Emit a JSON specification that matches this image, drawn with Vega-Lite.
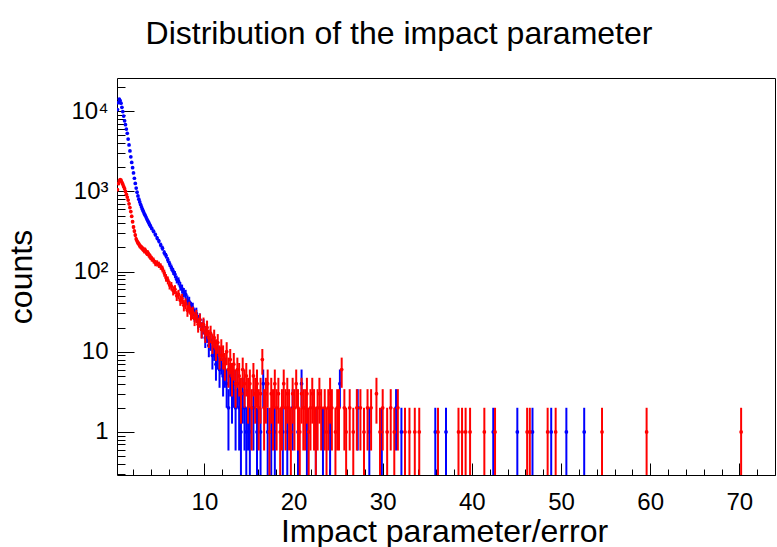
{
"$schema": "https://vega.github.io/schema/vega-lite/v6.json",
"width": 658, "height": 397,
"autosize": "none",
"padding": {"left": 117, "top": 78, "right": 2, "bottom": 72},
"background": "white",
"config": {
  "view": {"stroke": "black", "strokeWidth": 1},
  "font": "Liberation Sans",
  "axis": {"domain": false, "grid": false, "tickColor": "black", "tickWidth": 1, "labelColor": "black", "labelFont": "Liberation Sans", "labelFontSize": 24, "titleColor": "black", "titleFont": "Liberation Sans", "titleFontWeight": "normal", "labelOverlap": false, "labelFlush": false, "labelBound": false}
},
"title": {"text": "Distribution of the impact parameter", "fontSize": 32, "fontWeight": "normal", "font": "Liberation Sans", "color": "black", "anchor": "middle", "dx": -47, "baseline": "alphabetic", "offset": 2},
"datasets": {
"blue": [
{"x":0.25,"y":10500},{"x":0.35,"y":12800},{"x":0.45,"y":14200},{"x":0.55,"y":13600},{"x":0.65,"y":12600},{"x":0.75,"y":11200},{"x":0.85,"y":9900},{"x":0.95,"y":8700},{"x":1.05,"y":7600},{"x":1.15,"y":6800},{"x":1.25,"y":6000},{"x":1.35,"y":5300},{"x":1.45,"y":4500},{"x":1.55,"y":3800},{"x":1.65,"y":3200},{"x":1.75,"y":2700},{"x":1.85,"y":2300},{"x":1.95,"y":1980},{"x":2.05,"y":1700},{"x":2.15,"y":1460},{"x":2.25,"y":1260},{"x":2.35,"y":1100},{"x":2.45,"y":980},{"x":2.55,"y":880},{"x":2.65,"y":800},{"x":2.75,"y":740},{"x":2.85,"y":685},{"x":2.95,"y":640},
{"x":3.05,"y":600},{"x":3.15,"y":565},{"x":3.25,"y":530},{"x":3.35,"y":505},{"x":3.45,"y":478},{"x":3.55,"y":452},{"x":3.65,"y":430},{"x":3.75,"y":410},{"x":3.85,"y":388},{"x":3.95,"y":370},
{"x":4.1,"y":345},{"x":4.3,"y":318},{"x":4.5,"y":290},{"x":4.7,"y":262},{"x":4.9,"y":240},{"x":5.1,"y":215},{"x":5.3,"y":196},{"x":5.5,"y":172},{"x":5.7,"y":158},{"x":5.9,"y":140},{"x":6.1,"y":125},{"x":6.3,"y":112},{"x":6.5,"y":101},{"x":6.7,"y":92},{"x":6.9,"y":80},{"x":7.1,"y":76},{"x":7.3,"y":66},{"x":7.5,"y":61},{"x":7.7,"y":55},{"x":7.9,"y":52},{"x":8.1,"y":44},{"x":8.3,"y":42},{"x":8.5,"y":36},{"x":8.7,"y":35},{"x":8.9,"y":29},{"x":9.1,"y":30},{"x":9.3,"y":24},{"x":9.5,"y":25},{"x":9.7,"y":19},{"x":9.9,"y":21},{"x":10.1,"y":15},{"x":10.3,"y":17},{"x":10.5,"y":12},{"x":10.7,"y":14},{"x":10.9,"y":9},{"x":11.1,"y":11},{"x":11.3,"y":7},{"x":11.5,"y":9},{"x":11.7,"y":6},{"x":11.9,"y":8},
{"x":12.1,"y":5},{"x":12.3,"y":6},{"x":12.5,"y":4},{"x":12.7,"y":2},{"x":12.9,"y":5},{"x":13.1,"y":3},{"x":13.3,"y":4},{"x":13.5,"y":2},{"x":13.7,"y":4},{"x":13.9,"y":2},{"x":14.1,"y":1},{"x":14.3,"y":3},{"x":14.5,"y":2},{"x":14.7,"y":1},{"x":14.9,"y":2},{"x":15.1,"y":1},{"x":15.5,"y":2},{"x":15.9,"y":1},{"x":16.3,"y":1},{"x":16.6,"y":4},{"x":17.1,"y":1},{"x":17.5,"y":1},{"x":17.9,"y":1},{"x":18.8,"y":1},{"x":19.3,"y":1},{"x":19.9,"y":2},{"x":20.5,"y":1},{"x":20.9,"y":4},{"x":21.5,"y":1},{"x":22.5,"y":1},{"x":23.3,"y":1},{"x":24.1,"y":1},{"x":25.2,"y":4},{"x":27.2,"y":2},{"x":28.5,"y":1},{"x":29.9,"y":1},{"x":31.5,"y":2},{"x":32.1,"y":1},{"x":35.9,"y":1},{"x":37.1,"y":1},{"x":42.4,"y":1},{"x":45.1,"y":1},{"x":46.8,"y":1},{"x":48.9,"y":1},{"x":50.6,"y":1},{"x":52.6,"y":1}
],
"red": [
{"x":0.25,"y":1050},{"x":0.35,"y":1250},{"x":0.45,"y":1350},{"x":0.55,"y":1400},{"x":0.65,"y":1380},{"x":0.75,"y":1300},{"x":0.85,"y":1230},{"x":0.95,"y":1150},{"x":1.05,"y":1080},{"x":1.15,"y":1000},{"x":1.25,"y":920},{"x":1.35,"y":850},{"x":1.45,"y":780},{"x":1.55,"y":700},{"x":1.65,"y":630},{"x":1.75,"y":560},{"x":1.85,"y":490},{"x":1.95,"y":420},{"x":2.05,"y":360},{"x":2.15,"y":320},{"x":2.25,"y":285},{"x":2.35,"y":255},{"x":2.45,"y":240},{"x":2.55,"y":228},{"x":2.65,"y":222},{"x":2.75,"y":210},{"x":2.85,"y":205},{"x":2.95,"y":200},
{"x":3.05,"y":194},{"x":3.15,"y":190},{"x":3.25,"y":182},{"x":3.35,"y":186},{"x":3.45,"y":176},{"x":3.55,"y":170},{"x":3.65,"y":172},{"x":3.75,"y":163},{"x":3.85,"y":158},{"x":3.95,"y":152},
{"x":4.1,"y":145},{"x":4.3,"y":138},{"x":4.5,"y":128},{"x":4.7,"y":127},{"x":4.9,"y":122},{"x":5.1,"y":116},{"x":5.3,"y":108},{"x":5.5,"y":96},{"x":5.7,"y":84},{"x":5.9,"y":78},{"x":6.1,"y":68},{"x":6.3,"y":66},{"x":6.5,"y":58},{"x":6.7,"y":60},{"x":6.9,"y":50},{"x":7.1,"y":52},{"x":7.3,"y":44},{"x":7.5,"y":46},{"x":7.7,"y":38},{"x":7.9,"y":40},{"x":8.1,"y":33},{"x":8.3,"y":36},{"x":8.5,"y":30},{"x":8.7,"y":31},{"x":8.9,"y":26},{"x":9.1,"y":28},{"x":9.3,"y":22},{"x":9.5,"y":25},{"x":9.7,"y":19},{"x":9.9,"y":22},{"x":10.1,"y":17},{"x":10.3,"y":20},{"x":10.5,"y":15},{"x":10.7,"y":17},{"x":10.9,"y":13},{"x":11.1,"y":15},{"x":11.3,"y":11},{"x":11.5,"y":13},{"x":11.7,"y":9},{"x":11.9,"y":11},
{"x":12.1,"y":9},{"x":12.3,"y":7},{"x":12.5,"y":10},{"x":12.7,"y":6},{"x":12.9,"y":8},{"x":13.1,"y":5},{"x":13.3,"y":7},{"x":13.5,"y":4},{"x":13.7,"y":6},{"x":13.9,"y":5},{"x":14.1,"y":3},{"x":14.3,"y":6},{"x":14.5,"y":4},{"x":14.7,"y":5},{"x":14.9,"y":3},{"x":15.1,"y":4},{"x":15.3,"y":2},{"x":15.5,"y":5},{"x":15.7,"y":3},{"x":15.9,"y":4},{"x":16.1,"y":2},{"x":16.3,"y":3},{"x":16.5,"y":8},{"x":16.7,"y":2},{"x":16.9,"y":3},{"x":17.1,"y":4},{"x":17.3,"y":1},{"x":17.5,"y":3},{"x":17.7,"y":2},{"x":17.9,"y":4},{"x":18.1,"y":2},{"x":18.3,"y":3},{"x":18.5,"y":1},{"x":18.7,"y":2},{"x":18.9,"y":4},{"x":19.1,"y":2},{"x":19.3,"y":3},{"x":19.5,"y":2},{"x":19.7,"y":1},{"x":19.9,"y":3},{"x":20.1,"y":2},{"x":20.3,"y":4},{"x":20.5,"y":2},{"x":20.7,"y":1},{"x":20.9,"y":3},{"x":21.1,"y":2},{"x":21.3,"y":2},{"x":21.5,"y":3},{"x":21.7,"y":1},{"x":21.9,"y":2},{"x":22.1,"y":3},{"x":22.3,"y":2},{"x":22.5,"y":1},{"x":22.7,"y":2},{"x":22.9,"y":3},{"x":23.1,"y":2},{"x":23.5,"y":2},{"x":23.7,"y":1},{"x":23.9,"y":2},{"x":24.1,"y":3},{"x":24.3,"y":2},{"x":24.7,"y":1},{"x":24.9,"y":2},{"x":25.1,"y":2},{"x":25.4,"y":6},{"x":25.7,"y":2},{"x":25.9,"y":1},{"x":26.3,"y":2},{"x":26.7,"y":1},{"x":27.1,"y":2},{"x":27.5,"y":2},{"x":27.9,"y":1},{"x":28.3,"y":2},{"x":28.7,"y":2},{"x":29.3,"y":3},{"x":29.7,"y":1},{"x":30.0,"y":2},{"x":30.5,"y":1},{"x":30.9,"y":2},{"x":31.3,"y":1},{"x":31.7,"y":2},{"x":32.5,"y":1},{"x":33.0,"y":1},{"x":33.6,"y":1},{"x":34.1,"y":1},{"x":36.2,"y":1},{"x":38.5,"y":1},{"x":38.9,"y":1},{"x":39.3,"y":1},{"x":39.8,"y":1},{"x":41.4,"y":1},{"x":42.6,"y":1},{"x":46.2,"y":1},{"x":46.5,"y":1},{"x":48.5,"y":1},{"x":49.4,"y":1},{"x":54.6,"y":1},{"x":59.6,"y":1},{"x":70.2,"y":1}
]
},
"layer": [
{
  "data": {"name": "blue"},
  "transform": [{"calculate": "max(datum.y - sqrt(datum.y), 0.05)", "as": "lo"}, {"calculate": "datum.y + sqrt(datum.y)", "as": "hi"}],
  "mark": {"type": "rule", "color": "#0000ff", "strokeWidth": 2, "clip": true},
  "encoding": {
    "x": {"field": "x", "type": "quantitative", "scale": {"domain": [0.2, 74], "nice": false, "zero": false},
      "axis": {"orient": "bottom", "values": [10,20,30,40,50,60,70], "tickSize": -12, "labelPadding": 27, "title": "Impact parameter/error", "titleFontSize": 32, "titleX": 327, "titleY": 66, "titleAlign": "center", "titleBaseline": "alphabetic"}},
    "y": {"field": "lo", "type": "quantitative", "scale": {"type": "log", "domain": [0.29, 26000], "nice": false},
      "axis": {"orient": "left", "values": [1,10,100,1000,10000], "tickSize": -17, "labelPadding": 26, "labelExpr": "datum.value == 1 ? '1' : datum.value == 10 ? '10' : datum.value == 100 ? '10\u00b2' : datum.value == 1000 ? '10\u00b3' : '10\u2074'", "title": "counts", "titleFontSize": 32, "titleAngle": -90, "titleX": -86, "titleY": 198.5, "titleAlign": "center", "titleBaseline": "alphabetic"}},
    "y2": {"field": "hi"}
  }
},
{
  "data": {"name": "blue"},
  "mark": {"type": "point", "filled": true, "shape": "circle", "size": 14, "color": "#0000ff", "opacity": 1, "clip": true},
  "encoding": {
    "x": {"field": "x", "type": "quantitative",
      "axis": {"orient": "bottom", "values": [2,4,6,8,12,14,16,18,22,24,26,28,32,34,36,38,42,44,46,48,52,54,56,58,62,64,66,68,72,74], "tickSize": -6, "labels": false, "title": null}},
    "y": {"field": "y", "type": "quantitative",
      "axis": {"orient": "left", "values": [0.3,0.4,0.5,0.6,0.7,0.8,0.9,2,3,4,5,6,7,8,9,20,30,40,50,60,70,80,90,200,300,400,500,600,700,800,900,2000,3000,4000,5000,6000,7000,8000,9000,20000], "tickSize": -8, "labels": false, "title": null}}
  }
},
{
  "data": {"name": "red"},
  "transform": [{"calculate": "max(datum.y - sqrt(datum.y), 0.05)", "as": "lo"}, {"calculate": "datum.y + sqrt(datum.y)", "as": "hi"}],
  "mark": {"type": "rule", "color": "#ff0000", "strokeWidth": 2, "clip": true},
  "encoding": {
    "x": {"field": "x", "type": "quantitative", "axis": null},
    "y": {"field": "lo", "type": "quantitative", "axis": null},
    "y2": {"field": "hi"}
  }
},
{
  "data": {"name": "red"},
  "mark": {"type": "point", "filled": true, "shape": "circle", "size": 14, "color": "#ff0000", "opacity": 1, "clip": true},
  "encoding": {
    "x": {"field": "x", "type": "quantitative", "axis": null},
    "y": {"field": "y", "type": "quantitative", "axis": null}
  }
}
],
"resolve": {"axis": {"x": "independent", "y": "independent"}}
}
